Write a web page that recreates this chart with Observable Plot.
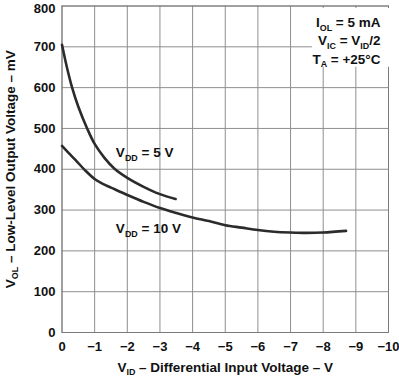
<!DOCTYPE html>
<html>
<head>
<meta charset="utf-8">
<script src="https://cdn.jsdelivr.net/npm/d3@7"></script>
<script src="https://cdn.jsdelivr.net/npm/@observablehq/plot@0.6"></script>
<style>
  html, body { margin: 0; padding: 0; background: #fff; }
</style>
</head>
<body>
<div id="chart"></div>
<script>
// ---- data ----
const xTicks = [0, -1, -2, -3, -4, -5, -6, -7, -8, -9, -10];
const yTicks = [0, 100, 200, 300, 400, 500, 600, 700, 800];

const vid5 = [0, -0.15, -0.31, -0.5, -0.77, -1, -1.3, -1.6, -2, -2.5, -3, -3.48];
const vol5 = [705, 650, 600, 553, 500, 462, 428, 402, 379, 357, 339, 327];

const vid10 = [0, -0.2, -0.41, -0.7, -1, -1.25, -1.5, -2, -2.5, -3, -3.5, -4, -4.5, -5, -5.5, -6, -6.5, -7, -7.5, -8, -8.7];
const vol10 = [457, 440, 423, 398, 376, 364, 355, 337, 320, 305, 293, 282, 273, 263, 257, 251, 247, 245, 244, 245, 249];

const seriesNames = ["V_{DD} = 5 V", "V_{DD} = 10 V"];
const labelX = [-1.65, -1.65];
const labelY = [440, 254];

const annotation = "I_{OL} = 5 mA\nV_{IC} = V_{ID}/2\nT_{A} = +25°C";
const xTitle = "V_{ID} – Differential Input Voltage – V";
const yTitle = "V_{OL} – Low-Level Output Voltage – mV";

// ---- tables ----
const curves = [
  ...vid5.map((x, i) => ({series: seriesNames[0], x, y: vol5[i]})),
  ...vid10.map((x, i) => ({series: seriesNames[1], x, y: vol10[i]}))
];
const labels = seriesNames.map((t, i) => ({text: t, x: labelX[i], y: labelY[i]}));
const yTicksLow = yTicks.slice(0, -1);
const yTickTop = yTicks.slice(-1);

const gridColor = "#8e8e8e";
const font = "'Liberation Sans', Arial, Helvetica, sans-serif";

const chart = Plot.plot({
  width: 399,
  height: 379,
  marginLeft: 61.5,
  marginRight: 11,
  marginTop: 5.5,
  marginBottom: 47,
  style: {fontFamily: font, fontSize: "13.5px", fontWeight: "bold", background: "#fff", color: "#111"},
  x: {domain: [0, -10], ticks: xTicks},
  y: {domain: [0, 800], ticks: yTicks},
  marks: [
    Plot.gridX(xTicks, {stroke: gridColor, strokeOpacity: 1, strokeWidth: 1}),
    Plot.gridY(yTicks, {stroke: gridColor, strokeOpacity: 1, strokeWidth: 1}),
    Plot.frame({stroke: "#7a7a7a", strokeWidth: 1}),
    Plot.axisX(xTicks, {tickSize: 0, tickPadding: 9, label: null, fontSize: 13,
      tickFormat: d => d === 0 ? "0" : "\u2212" + Math.abs(d)}),
    Plot.axisY(yTicksLow, {tickSize: 0, tickPadding: 6.5, label: null, fontSize: 13}),
    Plot.axisY(yTickTop, {tickSize: 0, tickPadding: 6.5, label: null, fontSize: 13, dy: 2.5}),
    Plot.line(curves, {x: "x", y: "y", z: "series", curve: "catmull-rom",
      stroke: "#2b2b2b", strokeWidth: 2.6}),
    Plot.text(labels, {x: "x", y: "y", text: "text", textAnchor: "start", fill: "#111"}),
    Plot.text([annotation], {frameAnchor: "top-right", textAnchor: "end", lineAnchor: "top",
      lineHeight: 1.36, dx: -8, dy: 8, fill: "#111", className: "annot"}),
    Plot.text([xTitle], {frameAnchor: "bottom", textAnchor: "middle", lineAnchor: "middle", dy: 35, fill: "#111"}),
    Plot.text([yTitle], {frameAnchor: "left", textAnchor: "middle", lineAnchor: "middle", rotate: -90, dx: -51.5, fill: "#111"})
  ]
});

document.getElementById("chart").append(chart);

// subscripts: "_{...}"
function subify(root) {
  const shift = 3.5;
  root.querySelectorAll("text, tspan").forEach(el => {
    if (el.children.length) return;
    const s = el.textContent;
    if (!s.includes("_{")) return;
    el.textContent = "";
    const re = /_\{([^}]*)\}/g;
    let last = 0, m, afterSub = false;
    const addNormal = (t) => {
      if (afterSub) {
        const ts = document.createElementNS("http://www.w3.org/2000/svg", "tspan");
        ts.setAttribute("dy", -shift);
        ts.textContent = t;
        el.append(ts);
      } else {
        el.append(document.createTextNode(t));
      }
      afterSub = false;
    };
    while ((m = re.exec(s))) {
      if (m.index > last) addNormal(s.slice(last, m.index));
      const sub = document.createElementNS("http://www.w3.org/2000/svg", "tspan");
      sub.setAttribute("dy", shift);
      sub.setAttribute("font-size", "66%");
      sub.textContent = m[1];
      el.append(sub);
      afterSub = true;
      last = re.lastIndex;
    }
    addNormal(last < s.length ? s.slice(last) : "\u200b");
  });
}
subify(chart);

// white box behind the conditions annotation
const annot = chart.querySelector("g.annot") || [...chart.querySelectorAll("g[aria-label='text']")][1];
if (annot) {
  const bb = annot.getBBox();
  const rect = document.createElementNS("http://www.w3.org/2000/svg", "rect");
  const x0 = bb.x - 8, x1 = bb.x + bb.width + 4;
  rect.setAttribute("x", x0);
  rect.setAttribute("y", 8);
  rect.setAttribute("width", x1 - x0);
  rect.setAttribute("height", bb.y + bb.height + 6 - 8);
  rect.setAttribute("fill", "#fff");
  annot.parentNode.insertBefore(rect, annot);
}
</script>
</body>
</html>
